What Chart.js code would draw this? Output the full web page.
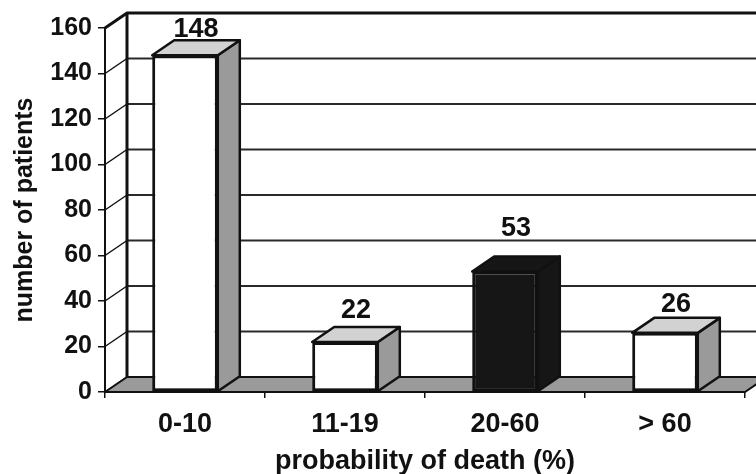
<!DOCTYPE html>
<html>
<head>
<meta charset="utf-8">
<script src="https://cdn.jsdelivr.net/npm/chart.js@4.4.1/dist/chart.umd.min.js"></script>
<style>
  html, body { margin: 0; padding: 0; background: #fff; }
  #wrap { width: 756px; height: 474px; }
</style>
</head>
<body>
<div id="wrap"><canvas id="chart"></canvas></div>
<script>
const categories = ['0-10', '11-19', '20-60', '> 60'];
const patients = [148, 22, 53, 26];
const barFill = ['#ffffff', '#ffffff', '#161616', '#ffffff'];
// how far each value label sits above the back edge of its bar top
const labelLift = [11, 16, 28, 13];

const FONT = '"Liberation Sans", Arial, sans-serif';
const INK = '#111111';
const DX = 22, DY = 15;   // depth of the 3d box

function poly(ctx, pts, fill, stroke, lw) {
  ctx.beginPath();
  ctx.moveTo(pts[0][0], pts[0][1]);
  for (let i = 1; i < pts.length; i++) ctx.lineTo(pts[i][0], pts[i][1]);
  ctx.closePath();
  if (fill) { ctx.fillStyle = fill; ctx.fill(); }
  if (stroke) { ctx.strokeStyle = stroke; ctx.lineWidth = lw; ctx.stroke(); }
}

function line(ctx, x0, y0, x1, y1, lw, color) {
  ctx.beginPath();
  ctx.moveTo(x0, y0);
  ctx.lineTo(x1, y1);
  ctx.lineWidth = lw;
  ctx.strokeStyle = color;
  ctx.stroke();
}

const depth3d = {
  id: 'depth3d',
  beforeDatasetsDraw(chart) {
    const { ctx, chartArea: a, scales: { y } } = chart;
    const y0 = y.getPixelForValue(0);
    ctx.save();
    ctx.lineJoin = 'round';
    // back wall grid + side wall diagonals
    y.ticks.forEach(t => {
      const py = y.getPixelForValue(t.value);
      if (t.value > 0 && t.value < y.max) line(ctx, a.left + DX, py - DY, chart.width, py - DY, 2, '#2a2a2a');
      line(ctx, a.left, py, a.left + DX, py - DY, 1.5, INK);
    });
    // floor
    poly(ctx, [[a.left, y0], [a.left + DX, y0 - DY], [a.right + DX, y0 - DY], [a.right, y0]], '#9a9a9a', INK, 2);
    // wall edges
    line(ctx, a.left + DX, a.top - DY, a.left + DX, y0 - DY, 3, INK);
    ctx.beginPath();
    ctx.moveTo(a.left, a.top);
    ctx.lineTo(a.left + DX, a.top - DY);
    ctx.lineTo(chart.width, a.top - DY);
    ctx.lineWidth = 3;
    ctx.strokeStyle = INK;
    ctx.stroke();
    ctx.restore();
  },
  afterDatasetsDraw(chart) {
    const { ctx } = chart;
    const meta = chart.getDatasetMeta(0);
    ctx.save();
    ctx.lineJoin = 'round';
    meta.data.forEach((bar, i) => {
      const { x, y: top, base, width } = bar.getProps(['x', 'y', 'base', 'width'], true);
      const x0 = x - width / 2, x1 = x + width / 2;
      const dark = barFill[i] !== '#ffffff';
      poly(ctx, [[x1, top], [x1 + DX, top - DY], [x1 + DX, base - DY], [x1, base]],
        dark ? barFill[i] : '#9a9a9a', INK, 2.5);
      poly(ctx, [[x0, top], [x0 + DX, top - DY], [x1 + DX, top - DY], [x1, top]],
        dark ? barFill[i] : '#d2d2d2', INK, 2.5);
      ctx.fillStyle = INK;
      ctx.font = 'bold 27px ' + FONT;
      ctx.textAlign = 'center';
      ctx.textBaseline = 'middle';
      ctx.fillText(String(patients[i]), x + DX / 2, top - DY - labelLift[i]);
    });
    ctx.restore();
  }
};

new Chart(document.getElementById('chart'), {
  type: 'bar',
  data: {
    labels: categories,
    datasets: [{
      label: 'number of patients',
      data: patients,
      backgroundColor: barFill,
      borderColor: INK,
      borderWidth: 3,
      borderSkipped: false,
      barPercentage: 0.41,
      categoryPercentage: 1
    }]
  },
  options: {
    responsive: true,
    maintainAspectRatio: false,
    animation: false,
    layout: { padding: { top: 28, right: 11, left: 0, bottom: 0 } },
    plugins: { legend: { display: false }, tooltip: { enabled: false } },
    scales: {
      x: {
        grid: { offset: true, drawOnChartArea: false, drawTicks: true, tickLength: 6, color: INK, lineWidth: 1.5 },
        border: { display: true, color: INK, width: 2 },
        ticks: { font: { family: FONT, size: 27, weight: 'bold' }, color: INK, padding: 10 },
        title: {
          display: true, text: 'probability of death (%)', color: INK,
          font: { family: FONT, size: 27, weight: 'bold', lineHeight: 1.0 }, padding: { top: 0, bottom: -1 }
        },
        afterFit(s) { s.height = 82; }
      },
      y: {
        min: 0, max: 160,
        ticks: { stepSize: 20, font: { family: FONT, size: 25, weight: 'bold' }, color: INK, padding: 6 },
        grid: { drawOnChartArea: false, drawTicks: true, tickLength: 7, color: INK, lineWidth: 1.5 },
        border: { display: true, color: INK, width: 2 },
        title: {
          display: true, text: 'number of patients', color: INK,
          font: { family: FONT, size: 25, weight: 'bold' }, padding: { top: 10, bottom: 0 }
        },
        afterFit(s) { s.width = 105; }
      }
    }
  },
  plugins: [depth3d]
});
</script>
</body>
</html>
